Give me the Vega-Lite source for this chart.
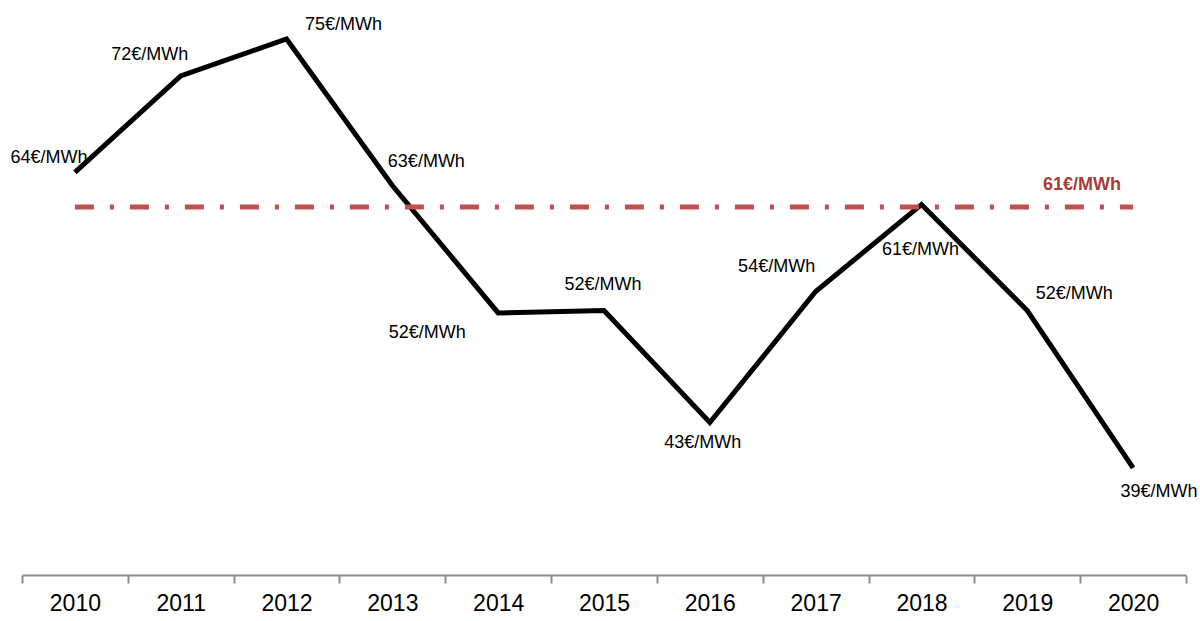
{
  "$schema": "https://vega.github.io/schema/vega-lite/v6.json",
  "width": 1164,
  "height": 575,
  "autosize": {"type": "none"},
  "padding": {"left": 22, "top": 0, "right": 14, "bottom": 46},
  "background": "white",
  "config": {"view": {"stroke": null}, "text": {"font": "Liberation Sans"}},
  "datasets": {
    "prices": [
      {"year": "2010", "value": 63.8, "label": "64€/MWh"},
      {"year": "2011", "value": 71.9, "label": "72€/MWh"},
      {"year": "2012", "value": 75.0, "label": "75€/MWh"},
      {"year": "2013", "value": 62.7, "label": "63€/MWh"},
      {"year": "2014", "value": 52.0, "label": "52€/MWh"},
      {"year": "2015", "value": 52.2, "label": "52€/MWh"},
      {"year": "2016", "value": 42.8, "label": "43€/MWh"},
      {"year": "2017", "value": 53.8, "label": "54€/MWh"},
      {"year": "2018", "value": 61.1, "label": "61€/MWh"},
      {"year": "2019", "value": 52.2, "label": "52€/MWh"},
      {"year": "2020", "value": 39.0, "label": "39€/MWh"}
    ],
    "mean": [
      {"year": "2010", "value": 60.9, "label": "61€/MWh"},
      {"year": "2020", "value": 60.9, "label": "61€/MWh"}
    ]
  },
  "encoding": {
    "x": {
      "field": "year", "type": "ordinal",
      "scale": {"type": "band", "paddingInner": 0, "paddingOuter": 0, "domain": ["2010","2011","2012","2013","2014","2015","2016","2017","2018","2019","2020"]},
      "axis": {
        "title": null, "labelAngle": 0, "tickBand": "extent", "tickSize": 8,
        "domainColor": "#8c8c8c", "tickColor": "#8c8c8c", "domainWidth": 2, "tickWidth": 2,
        "labelFont": "Liberation Sans", "labelFontSize": 23, "labelColor": "#000000",
        "labelPadding": 9, "grid": false
      }
    },
    "y": {
      "field": "value", "type": "quantitative",
      "scale": {"domain": [30, 78.27], "zero": false, "nice": false},
      "axis": null
    }
  },
  "layer": [
    {
      "data": {"name": "prices"},
      "mark": {"type": "line", "color": "#000000", "strokeWidth": 5, "strokeJoin": "miter"}
    },
    {
      "data": {"name": "mean"},
      "mark": {"type": "line", "color": "#c0504d", "strokeWidth": 5, "strokeDash": [19, 16, 4, 16]}
    },
    {
      "data": {"name": "mean"},
      "transform": [{"filter": "datum.year == '2020'"}],
      "mark": {"type": "text", "fontSize": 18, "fontWeight": "bold", "color": "#a83c3a", "baseline": "middle", "align": "center", "dx": -51, "dy": -22},
      "encoding": {"text": {"field": "label"}}
    },
    {"data": {"name": "prices"}, "transform": [{"filter": "datum.year == '2010'"}],
     "mark": {"type": "text", "fontSize": 18, "color": "#000000", "baseline": "middle", "align": "center", "dx": -26, "dy": -14},
     "encoding": {"text": {"field": "label"}}},
    {"data": {"name": "prices"}, "transform": [{"filter": "datum.year == '2011'"}],
     "mark": {"type": "text", "fontSize": 18, "color": "#000000", "baseline": "middle", "align": "center", "dx": -31, "dy": -21},
     "encoding": {"text": {"field": "label"}}},
    {"data": {"name": "prices"}, "transform": [{"filter": "datum.year == '2012'"}],
     "mark": {"type": "text", "fontSize": 18, "color": "#000000", "baseline": "middle", "align": "center", "dx": 57, "dy": -14},
     "encoding": {"text": {"field": "label"}}},
    {"data": {"name": "prices"}, "transform": [{"filter": "datum.year == '2013'"}],
     "mark": {"type": "text", "fontSize": 18, "color": "#000000", "baseline": "middle", "align": "center", "dx": 34, "dy": -23},
     "encoding": {"text": {"field": "label"}}},
    {"data": {"name": "prices"}, "transform": [{"filter": "datum.year == '2014'"}],
     "mark": {"type": "text", "fontSize": 18, "color": "#000000", "baseline": "middle", "align": "center", "dx": -71, "dy": 20},
     "encoding": {"text": {"field": "label"}}},
    {"data": {"name": "prices"}, "transform": [{"filter": "datum.year == '2015'"}],
     "mark": {"type": "text", "fontSize": 18, "color": "#000000", "baseline": "middle", "align": "center", "dx": -1, "dy": -26},
     "encoding": {"text": {"field": "label"}}},
    {"data": {"name": "prices"}, "transform": [{"filter": "datum.year == '2016'"}],
     "mark": {"type": "text", "fontSize": 18, "color": "#000000", "baseline": "middle", "align": "center", "dx": -7, "dy": 20},
     "encoding": {"text": {"field": "label"}}},
    {"data": {"name": "prices"}, "transform": [{"filter": "datum.year == '2017'"}],
     "mark": {"type": "text", "fontSize": 18, "color": "#000000", "baseline": "middle", "align": "center", "dx": -39, "dy": -24},
     "encoding": {"text": {"field": "label"}}},
    {"data": {"name": "prices"}, "transform": [{"filter": "datum.year == '2018'"}],
     "mark": {"type": "text", "fontSize": 18, "color": "#000000", "baseline": "middle", "align": "center", "dx": -1, "dy": 45},
     "encoding": {"text": {"field": "label"}}},
    {"data": {"name": "prices"}, "transform": [{"filter": "datum.year == '2019'"}],
     "mark": {"type": "text", "fontSize": 18, "color": "#000000", "baseline": "middle", "align": "center", "dx": 47, "dy": -17},
     "encoding": {"text": {"field": "label"}}},
    {"data": {"name": "prices"}, "transform": [{"filter": "datum.year == '2020'"}],
     "mark": {"type": "text", "fontSize": 18, "color": "#000000", "baseline": "middle", "align": "center", "dx": 26, "dy": 24},
     "encoding": {"text": {"field": "label"}}}
  ]
}
